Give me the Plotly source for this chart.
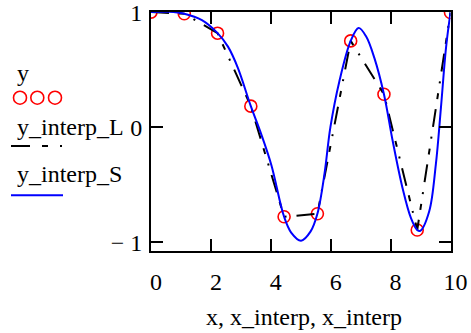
import plotly.graph_objects as go

# Sampled data points
x = [0.0, 1.111, 2.222, 3.333, 4.444, 5.556, 6.667, 7.778, 8.889, 10.0]
y = [1.0, 0.986, 0.817, 0.183, -0.778, -0.752, 0.75, 0.286, -0.893, 0.997]

# Cubic-spline curve, sampled
x_interp = [0.0, 0.6, 1.111, 1.7, 2.222, 2.57, 2.9, 3.333, 3.68, 4.02, 4.444,
            4.68, 5.01, 5.33, 5.556, 5.79, 5.99, 6.29, 6.667, 6.93, 7.18, 7.46,
            7.778, 8.07, 8.40, 8.68, 8.889, 8.99, 9.29, 9.51, 9.68, 9.85, 10.0]
y_interp_S = [1.0, 1.003, 0.986, 0.93, 0.817, 0.70, 0.516, 0.183, -0.06, -0.33, -0.778,
              -0.915, -0.986, -0.905, -0.752, -0.41, 0.0, 0.40, 0.75, 0.863, 0.79, 0.60,
              0.286, -0.12, -0.53, -0.79, -0.893, -0.90, -0.73, -0.325, 0.168, 0.69, 0.997]

x_ticks = [0, 2, 4, 6, 8, 10]
y_ticks = [-1, 0, 1]
y_ticktext = ["\u2212 1", "0", "1"]

W, H = 471, 333
FONT = "Liberation Serif"
FS = 24


def px(v):
    return v / W


def py(v):
    return 1 - v / H


fig = go.Figure()

fig.add_trace(go.Scatter(
    x=x, y=y, mode="markers", name="y",
    marker=dict(symbol="circle-open", size=12, color="#ff0000",
                line=dict(width=1.6, color="#ff0000")),
))
fig.add_trace(go.Scatter(
    x=x, y=y, mode="lines", name="y_interp_L",
    line=dict(color="black", width=2, dash="18px,10px,6px,10px,2px,10px"),
))
fig.add_trace(go.Scatter(
    x=x_interp, y=y_interp_S, mode="lines", name="y_interp_S",
    line=dict(color="#0000ff", width=2, shape="spline", smoothing=1),
))

axis_common = dict(
    showline=True, linecolor="black", linewidth=2, mirror="ticks",
    ticks="inside", ticklen=12, tickwidth=2, tickcolor="black",
    showgrid=False, zeroline=False, automargin=False,
    ticklabeloverflow="allow",
    tickfont=dict(family=FONT, size=FS, color="black"),
)

fig.update_xaxes(
    range=[0, 10], domain=[px(151), px(450.5)],
    tickvals=x_ticks, ticklabelshift=5, ticklabelstandoff=8,
    **axis_common,
)
fig.update_yaxes(
    range=[-1.0756, 1.001], domain=[py(251), py(12)],
    tickvals=y_ticks, ticktext=y_ticktext, ticklabelstandoff=2,
    **axis_common,
)

# Trace labels and sample marks on the left
annots = [
    dict(text="y", x=px(15), y=py(73)),
    dict(text="y_interp_L", x=px(15), y=py(127)),
    dict(text="y_interp_S", x=px(15), y=py(174)),
    dict(text="x, x_interp, x_interp", x=px(304), y=py(317), xanchor="center"),
]
for a in annots:
    fig.add_annotation(
        text=a["text"], x=a["x"], y=a["y"], xref="paper", yref="paper",
        xanchor=a.get("xanchor", "left"), yanchor="middle", showarrow=False,
        font=dict(family=FONT, size=FS, color="black"),
    )

shapes = []
for cx in (20, 37.3, 55):
    r = 6.5
    shapes.append(dict(type="circle", xref="paper", yref="paper",
                       x0=px(cx - r), x1=px(cx + r), y0=py(97.7 + r), y1=py(97.7 - r),
                       line=dict(color="#ff0000", width=1.6)))
for x0, x1 in ((11, 30), (42, 48), (60, 62)):
    shapes.append(dict(type="line", xref="paper", yref="paper",
                       x0=px(x0), x1=px(x1), y0=py(146), y1=py(146),
                       line=dict(color="black", width=2)))
shapes.append(dict(type="line", xref="paper", yref="paper",
                   x0=px(11), x1=px(63), y0=py(195.3), y1=py(195.3),
                   line=dict(color="#0000ff", width=2)))

fig.update_layout(
    width=W, height=H, margin=dict(l=0, r=0, t=0, b=0, autoexpand=False),
    paper_bgcolor="white", plot_bgcolor="white",
    showlegend=False, shapes=shapes,
    font=dict(family=FONT, size=FS, color="black"),
)

fig.write_html("out.html")
